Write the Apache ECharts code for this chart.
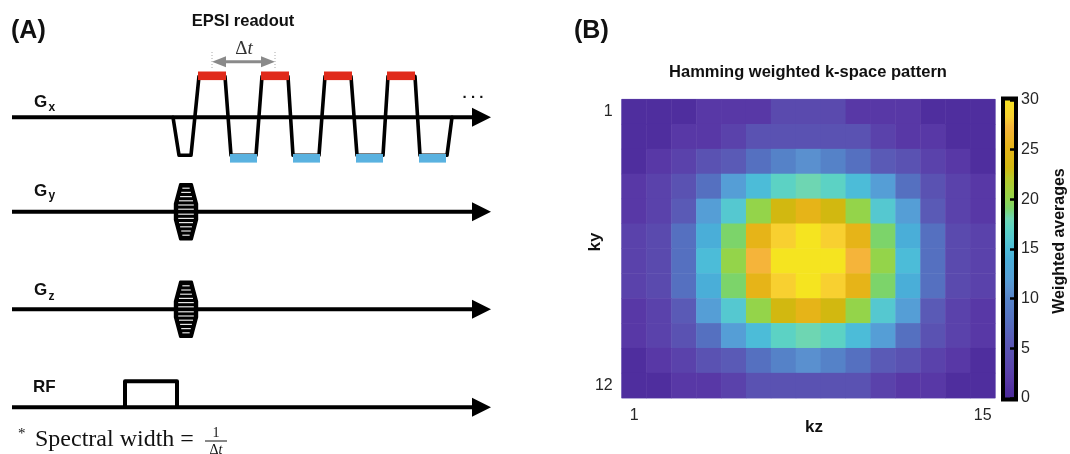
<!DOCTYPE html>
<html><head><meta charset="utf-8">
<script src="https://cdn.jsdelivr.net/npm/echarts/dist/echarts.min.js"></script>
<style>html,body{margin:0;padding:0;background:#fff}#c{width:1070px;height:454px}</style>
</head><body><div id="c"></div>
<script>
// ---------------- Panel B data ----------------
const kzLabels = ['1','2','3','4','5','6','7','8','9','10','11','12','13','14','15'];
const kyLabels = ['1','2','3','4','5','6','7','8','9','10','11','12'];
const weights = [
  [1,1,1,2,2,2,4,4,4,2,2,2,1,1,1],
  [1,1,2,2,3,5,5,5,5,5,3,2,2,1,1],
  [1,2,3,5,6,8,10,11,10,8,6,5,3,2,1],
  [2,3,5,8,12,15,17,18,17,15,12,8,5,3,2],
  [2,3,6,12,16,20,23,25,23,20,16,12,6,3,2],
  [3,4,8,14,19,25,28,30,28,25,19,14,8,4,3],
  [3,4,8,15,20,27,30,30,30,27,20,15,8,4,3],
  [3,4,8,14,19,25,28,30,28,25,19,14,8,4,3],
  [2,3,6,12,16,20,23,25,23,20,16,12,6,3,2],
  [2,3,5,8,12,15,17,18,17,15,12,8,5,3,2],
  [1,2,3,5,6,8,10,11,10,8,6,5,3,2,1],
  [1,1,2,2,3,5,5,5,5,5,3,2,2,1,1]
];
const cbMin = 0, cbMax = 30, cbStep = 5;

// ---------------- Panel A diagram data ----------------
const channels = ['Gx','Gy','Gz','RF'];
const gxTime = [173,179,191,199,225,231,256,262,288,293,319,325,351,357,383,388,415,420,447,452];
const gxAmp  = [0,-38,-38,41,41,-38,-38,41,41,-38,-38,41,41,-38,-38,41,41,-38,-38,0];
const readoutPos = [[198,226],[261,289],[324,352],[387,415]];
const readoutNeg = [[230,257],[293,320],[356,383],[419,446]];
const peTime = 186;
const peLevels = [2.5,6.7,10.9,15.1,19.3,23.5];
const rfTime = [125,125,177,177];
const rfAmp  = [0,26,26,0];

// ---------------- layout / style ----------------
const base = {Gx:117.3, Gy:211.7, Gz:309.3, RF:407.3};
const SANS = 'Liberation Sans, Arial, sans-serif';
const SERIF = 'Liberation Serif, Times New Roman, serif';

const keys = [[0,'#4a2a98'],[1,'#4f2e9e'],[2,'#5838a6'],[3,'#5a42ab'],[4,'#5a4aae'],[5,'#5a52b2'],
  [6,'#5a5ab6'],[8,'#5570c0'],[10,'#5582c8'],[11,'#5a90cf'],[12,'#559ed6'],[14,'#4aaed8'],
  [15,'#4cbcd8'],[16,'#55c8d0'],[17,'#5cd2c4'],[18,'#6ed6b2'],[19,'#7cd46a'],[20,'#94d44a'],
  [22,'#b8c828'],[23,'#d2b810'],[25,'#e6b418'],[27,'#f5b43a'],[28,'#f8d030'],[30,'#f5e420']];
function hx(h){return [parseInt(h.slice(1,3),16),parseInt(h.slice(3,5),16),parseInt(h.slice(5,7),16)];}
function colorAt(v){
  for(let i=0;i<keys.length-1;i++){
    const [v0,c0]=keys[i],[v1,c1]=keys[i+1];
    if(v>=v0&&v<=v1){const t=(v-v0)/(v1-v0),a=hx(c0),b=hx(c1);
      return 'rgb('+a.map((x,j)=>Math.round(x+(b[j]-x)*t)).join(',')+')';}
  }
  return keys[keys.length-1][1];
}
const palette = Array.from({length:cbMax-cbMin+1},(_,i)=>colorAt(cbMin+i));
const cbStops = keys.map(([v,c])=>({offset:1-(v-cbMin)/(cbMax-cbMin),color:c})).reverse();

const heatData = [];
weights.forEach((row,r)=>row.forEach((v,c)=>heatData.push([c,r,v])));

const chart = echarts.init(document.getElementById('c'),null,{renderer:'canvas'});

const A = {xAxisIndex:0,yAxisIndex:0};
const series = [
  {type:'heatmap',xAxisIndex:1,yAxisIndex:1,data:heatData,itemStyle:{borderWidth:0},emphasis:{disabled:true},z:2},
  {type:'custom',xAxisIndex:2,yAxisIndex:2,data:[[0,0]],z:2,silent:true,
   renderItem(p,api){
     const t=api.coord([0,cbMax]),b=api.coord([0,cbMin]),w=api.size([1,0])[0];
     return {type:'rect',shape:{x:t[0]-w/2,y:t[1]-1.5,width:w,height:b[1]-t[1]+3},
       style:{fill:{type:'linear',x:0,y:0,x2:0,y2:1,colorStops:cbStops},stroke:'#000',lineWidth:4}};
   }},
  // channel axes with arrows
  Object.assign({type:'custom',data:channels.map((c,i)=>[i]),silent:true,z:1,
   renderItem(p,api){
     const y=base[channels[api.value(0)]];
     const s=api.coord([12,y]),e=api.coord([476,y]),a1=api.coord([472,y-9.5]),a2=api.coord([491,y]),a3=api.coord([472,y+9.5]);
     return {type:'group',children:[
       {type:'line',shape:{x1:s[0],y1:s[1],x2:e[0],y2:e[1]},style:{stroke:'#000',lineWidth:4}},
       {type:'polygon',shape:{points:[a1,a2,a3]},style:{fill:'#000'}}]};
   }},A),
  // Gx waveform
  Object.assign({type:'line',data:gxTime.map((t,i)=>[t,base.Gx-gxAmp[i]]),symbol:'none',silent:true,z:3,
    lineStyle:{color:'#000',width:3.6,join:'round',cap:'round'}},A),
  // readout windows
  Object.assign({type:'custom',data:readoutPos.map(r=>[r[0],r[1],1]).concat(readoutNeg.map(r=>[r[0],r[1],-1])),silent:true,z:4,
   renderItem(p,api){
     const pos=api.value(2)>0;const yc=pos?base.Gx-41.5:base.Gx+41;
     const a=api.coord([api.value(0),yc]),b=api.coord([api.value(1),yc]);
     return {type:'rect',shape:{x:a[0],y:a[1]-4.3,width:b[0]-a[0],height:8.6},style:{fill:pos?'#e02a1a':'#5ab2e0'}};
   }},A),
  // phase encoding tables
  Object.assign({type:'custom',data:[[1],[2]],silent:true,z:4,
   renderItem(p,api){
     const y=base[channels[api.value(0)]],t=peTime;
     const pts=[[-5.8,-27.5],[5.8,-27.5],[11,-8],[11,8],[5.8,27.5],[-5.8,27.5],[-11,8],[-11,-8]].map(q=>api.coord([t+q[0],y+q[1]]));
     const ch=[{type:'polygon',shape:{points:pts},style:{fill:'#000',stroke:'#000',lineWidth:2.4,lineJoin:'round'}}];
     const hw=a=>a<=8?11:11-(a-8)*(5.2/19.5);
     peLevels.forEach(l=>[-1,1].forEach(sg=>{
       const h=hw(l)-3.2;const s=api.coord([t-h,y+sg*l]),e=api.coord([t+h,y+sg*l]);
       ch.push({type:'line',shape:{x1:s[0],y1:s[1],x2:e[0],y2:e[1]},style:{stroke:'#e6e6e6',lineWidth:1.2}});
     }));
     return {type:'group',children:ch};
   }},A),
  // RF pulse
  Object.assign({type:'line',data:rfTime.map((t,i)=>[t,base.RF-rfAmp[i]]),symbol:'none',silent:true,z:3,
    lineStyle:{color:'#000',width:4,join:'round'}},A),
  // delta t arrow between first two readout centres
  Object.assign({type:'custom',data:[[(readoutPos[0][0]+readoutPos[0][1])/2,(readoutPos[1][0]+readoutPos[1][1])/2]],silent:true,z:4,
   renderItem(p,api){
     const y=61.7,x0=api.value(0),x1=api.value(1);
     const c=(x,yy)=>api.coord([x,yy]);const g='#8a8a8a';
     return {type:'group',children:[
       {type:'line',shape:{x1:c(x0+10,y)[0],y1:c(x0,y)[1],x2:c(x1-10,y)[0],y2:c(x1,y)[1]},style:{stroke:g,lineWidth:3}},
       {type:'polygon',shape:{points:[c(x0,y),c(x0+14,y-5.5),c(x0+14,y+5.5)]},style:{fill:g}},
       {type:'polygon',shape:{points:[c(x1,y),c(x1-14,y-5.5),c(x1-14,y+5.5)]},style:{fill:g}},
       {type:'line',shape:{x1:c(x0,52)[0],y1:c(x0,52)[1],x2:c(x0,68)[0],y2:c(x0,68)[1]},style:{stroke:'#aaa',lineWidth:1,lineDash:[1,2]}},
       {type:'line',shape:{x1:c(x1,52)[0],y1:c(x1,52)[1],x2:c(x1,68)[0],y2:c(x1,68)[1]},style:{stroke:'#aaa',lineWidth:1,lineDash:[1,2]}}
     ]};
   }},A)
];

function txt(x,y,text,font,opt){
  return Object.assign({type:'text',x:x,y:y,silent:true,z:100,
    style:Object.assign({text:text,font:font,fill:'#111',textAlign:'left',verticalAlign:'middle',textVerticalAlign:'middle'},opt&&opt.style||{})},
    opt&&opt.el||{});
}
const graphic = [
  txt(11,31,'(A)','bold 25px '+SANS),
  txt(243,21,'EPSI readout','bold 16.5px '+SANS,{style:{textAlign:'center'}}),
  {type:'text',x:244,y:49,silent:true,z:100,style:{text:'{a|Δ}{b|t}',textAlign:'center',verticalAlign:'middle',textVerticalAlign:'middle',
    rich:{a:{font:'19px '+SERIF,fill:'#333'},b:{font:'italic 19px '+SERIF,fill:'#333'}}}},
  txt(34,102.5,'G','bold 17px '+SANS), txt(48.5,108,'x','bold 12px '+SANS),
  txt(34,191.5,'G','bold 17px '+SANS), txt(48.5,196,'y','bold 12px '+SANS),
  txt(34,290,'G','bold 17px '+SANS), txt(48.5,297,'z','bold 12px '+SANS),
  txt(33,387.5,'RF','bold 17px '+SANS),
  txt(473,94,'. . .','bold 15px '+SANS,{style:{textAlign:'center'}}),
  txt(18,434,'*','15px '+SERIF),
  txt(35,440,'Spectral width =','24px '+SERIF),
  txt(216,433.5,'1','14px '+SERIF,{style:{textAlign:'center'}}),
  {type:'line',silent:true,z:100,shape:{x1:205,y1:441,x2:227,y2:441},style:{stroke:'#111',lineWidth:1}},
  {type:'text',x:216,y:450,silent:true,z:100,style:{text:'{a|Δ}{b|t}',textAlign:'center',verticalAlign:'middle',textVerticalAlign:'middle',
    rich:{a:{font:'14px '+SERIF,fill:'#111'},b:{font:'italic 14px '+SERIF,fill:'#111'}}}},
  // panel B texts
  txt(574,31,'(B)','bold 25px '+SANS),
  txt(808,72,'Hamming weighted k-space pattern','bold 16.5px '+SANS,{style:{textAlign:'center'}}),
  txt(595,242,'ky','bold 17px '+SANS,{style:{textAlign:'center'},el:{rotation:Math.PI/2}}),
  txt(814,427,'kz','bold 17px '+SANS,{style:{textAlign:'center'}}),
  txt(1060,241,'Weighted averages','bold 16px '+SANS,{style:{textAlign:'center'},el:{rotation:Math.PI/2}})
];

const lblInt = n => (i => i===0 || i===n-1);
chart.setOption({
  animation:false,
  backgroundColor:'#fff',
  grid:[
    {left:0,top:0,width:540,height:454},
    {left:621.7,top:99.3,width:373.5,height:298.7,show:true,borderColor:'#aaa4d8',borderWidth:1,backgroundColor:'transparent'},
    {left:1003,top:100,width:13,height:298}
  ],
  xAxis:[
    {gridIndex:0,type:'value',min:0,max:540,show:false},
    {gridIndex:1,type:'category',data:kzLabels,axisLine:{show:false},axisTick:{show:false},splitLine:{show:false},
      axisLabel:{interval:lblInt(kzLabels.length),fontSize:16,color:'#262626',margin:10,fontFamily:SANS}},
    {gridIndex:2,type:'category',data:['cb'],show:false}
  ],
  yAxis:[
    {gridIndex:0,type:'value',min:0,max:454,inverse:true,show:false},
    {gridIndex:1,type:'category',data:kyLabels,inverse:true,axisLine:{show:false},axisTick:{show:false},splitLine:{show:false},
      axisLabel:{interval:lblInt(kyLabels.length),fontSize:16,color:'#262626',margin:9,fontFamily:SANS,padding:[8,0,0,0]}},
    {gridIndex:2,type:'value',min:cbMin,max:cbMax,interval:cbStep,position:'right',z:10,
      axisLine:{show:false},splitLine:{show:false},
      axisTick:{show:true,inside:true,length:6,lineStyle:{color:'#000',width:2.5}},
      axisLabel:{fontSize:16,color:'#262626',margin:5,fontFamily:SANS}}
  ],
  visualMap:{type:'continuous',show:false,min:cbMin,max:cbMax,seriesIndex:0,dimension:2,inRange:{color:palette}},
  series:series,
  graphic:graphic
});
</script></body></html>
